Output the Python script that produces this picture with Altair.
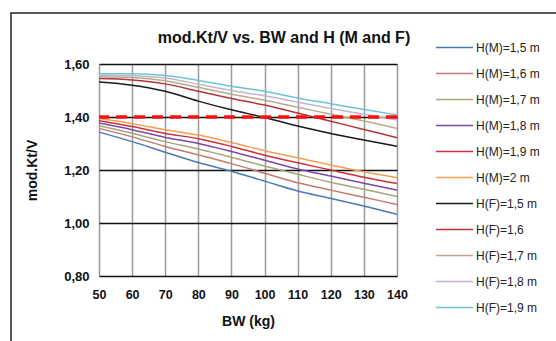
import altair as alt
import pandas as pd

bw = [50, 60, 70, 80, 90, 100, 110, 120, 130, 140]

series_names = ["H(M)=1,5 m", "H(M)=1,6 m", "H(M)=1,7 m", "H(M)=1,8 m", "H(M)=1,9 m",
                "H(M)=2 m", "H(F)=1,5 m", "H(F)=1,6", "H(F)=1,7 m", "H(F)=1,8 m", "H(F)=1,9 m"]

m15 = [1.343, 1.307, 1.267, 1.228, 1.195, 1.158, 1.121, 1.093, 1.064, 1.033]
m16 = [1.357, 1.325, 1.289, 1.257, 1.224, 1.188, 1.152, 1.124, 1.097, 1.070]
m17 = [1.367, 1.339, 1.307, 1.279, 1.248, 1.215, 1.184, 1.154, 1.127, 1.100]
m18 = [1.377, 1.352, 1.323, 1.300, 1.270, 1.237, 1.204, 1.177, 1.150, 1.124]
m19 = [1.386, 1.364, 1.338, 1.318, 1.289, 1.256, 1.227, 1.200, 1.173, 1.149]
m20 = [1.394, 1.375, 1.352, 1.332, 1.304, 1.273, 1.246, 1.219, 1.193, 1.171]
f15 = [1.532, 1.520, 1.497, 1.460, 1.427, 1.398, 1.366, 1.338, 1.313, 1.290]
f16 = [1.545, 1.540, 1.525, 1.497, 1.470, 1.445, 1.415, 1.384, 1.353, 1.322]
f17 = [1.552, 1.549, 1.537, 1.512, 1.486, 1.463, 1.437, 1.410, 1.385, 1.357]
f18 = [1.558, 1.556, 1.547, 1.524, 1.500, 1.480, 1.456, 1.432, 1.410, 1.389]
f19 = [1.563, 1.563, 1.557, 1.538, 1.516, 1.497, 1.472, 1.450, 1.428, 1.408]

all_series = [m15, m16, m17, m18, m19, m20, f15, f16, f17, f18, f19]

colors = ["#4a7ab0", "#c47a6e", "#a8a47c", "#7a48a8", "#d0303c", "#f0a050",
          "#1a1a1a", "#b8323a", "#b9a98a", "#c4b4cc", "#6cc4d4"]

threshold = [1.40]
title_text = ["mod.Kt/V vs. BW and H (M and F)"]

rows = []
for name, vals in zip(series_names, all_series):
    for x, v in zip(bw, vals):
        rows.append({"BW": x, "val": v, "series": name})
df = pd.DataFrame(rows)

FONT = "Liberation Sans"

lines = alt.Chart(df).mark_line(strokeWidth=1.5, interpolate="monotone").encode(
    x=alt.X("BW:Q", scale=alt.Scale(domain=[50, 140], nice=False),
            axis=alt.Axis(values=bw, title="BW (kg)", grid=True, gridColor="#9a9a9a",
                          gridWidth=1.5, ticks=False, domain=False, labelPadding=12,
                          labelOverlap=False, labelFlush=False,
                          labelFont=FONT, labelFontSize=12.5, labelFontWeight="bold",
                          labelColor="#111", titleFont=FONT, titleFontSize=14,
                          titleFontWeight="bold", titleColor="#111", titlePadding=14)),
    y=alt.Y("val:Q", scale=alt.Scale(domain=[0.8, 1.6], nice=False),
            axis=alt.Axis(values=[0.8, 0.9, 1.0, 1.1, 1.2, 1.3, 1.4, 1.5, 1.6],
                          labelExpr="replace(format(datum.value, '.2f'), '.', ',')",
                          labelOverlap=False, labelFlush=False,
                          title="mod.Kt/V", grid=True, gridColor="#111", gridWidth=1.5,
                          ticks=False, domain=False, labelPadding=10,
                          labelFont=FONT, labelFontSize=13, labelFontWeight="bold",
                          labelColor="#111", titleFont=FONT, titleFontSize=14,
                          titleFontWeight="bold", titleColor="#111", titlePadding=24)),
    color=alt.Color("series:N", sort=series_names,
                    scale=alt.Scale(domain=series_names, range=colors),
                    legend=alt.Legend(title=None, orient="none", legendX=336, legendY=-36,
                                      symbolType="stroke", symbolSize=1369,
                                      symbolStrokeWidth=1.5, rowPadding=0,
                                      labelFont=FONT, labelFontSize=12, labelColor="#222",
                                      labelOffset=2)),
)

ref = alt.Chart(pd.DataFrame({"y": threshold})).mark_rule(
    color="#ff1010", strokeWidth=3.5, strokeDash=[11, 7]
).encode(y="y:Q")

border = alt.Chart(pd.DataFrame({"a": [0]})).mark_rect(
    filled=False, stroke="#222", strokeWidth=1.5
).encode(x=alt.value(-88), x2=alt.value(470), y=alt.value(-51), y2=alt.value(300))

title = alt.Chart(pd.DataFrame({"t": title_text})).mark_text(
    font=FONT, fontSize=16, fontWeight="bold", color="#111",
    align="center", baseline="middle"
).encode(text="t:N", x=alt.value(185), y=alt.value(-26))

chart = alt.layer(border, lines, ref, title).properties(
    width=298, height=212,
    padding={"left": 99, "top": 64, "right": 159, "bottom": 65},
    autosize=alt.AutoSizeParams(type="none"),
).configure_view(stroke="#9a9a9a", strokeWidth=1.5).configure(background="white")

chart.save("out.html", embed_options={"renderer": "svg", "actions": False})
